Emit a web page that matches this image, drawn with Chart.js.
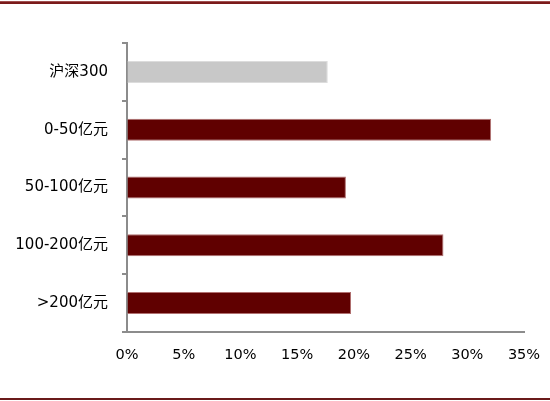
<!DOCTYPE html>
<html>
<head>
<meta charset="utf-8">
<script src="https://cdn.jsdelivr.net/npm/chart.js@4"></script>
<style>
  html, body { margin: 0; padding: 0; background: #fff; }
  #wrap { position: relative; width: 550px; height: 401px; overflow: hidden; }
  #topline { position: absolute; left: 0; top: 1px; width: 550px; height: 1px; background: #a05050; }
  #topline2 { position: absolute; left: 0; top: 2px; width: 550px; height: 2px; background: #7a1a1a; }
  #botline { position: absolute; left: 0; top: 398px; width: 550px; height: 2px; background: #6a1a1a; }
</style>
</head>
<body>
<div id="wrap">
  <div id="topline"></div>
  <div id="topline2"></div>
  <canvas id="bar_chart" width="550" height="401"></canvas>
  <div id="botline"></div>
</div>
<script>
var categories = ['沪深300', '0-50亿元', '50-100亿元', '100-200亿元', '>200亿元'];
var values = [17.7, 32.1, 19.3, 27.9, 19.75];
var bar_colors = ['#c8c8c8', '#600000', '#600000', '#600000', '#600000'];
var bar_borders = ['#dcdcdc', '#b07070', '#b07070', '#b07070', '#b07070'];

var font_family = "'DejaVu Sans', 'Noto Sans CJK SC', sans-serif";

function buildBarChart() {
    var ctx = document.getElementById('bar_chart');
    new Chart(ctx, {
        type: 'bar',
        data: {
            labels: categories,
            datasets: [{
                data: values,
                backgroundColor: bar_colors,
                borderColor: bar_borders,
                borderWidth: 1,
                barPercentage: 0.76,
                categoryPercentage: 0.5
            }]
        },
        options: {
            indexAxis: 'y',
            responsive: false,
            animation: false,
            layout: { padding: { top: 43, right: 26, left: 0, bottom: 0 } },
            plugins: {
                legend: { display: false },
                tooltip: { enabled: false }
            },
            scales: {
                x: {
                    min: 0,
                    max: 35,
                    ticks: {
                        stepSize: 5,
                        padding: 15,
                        color: '#000',
                        font: { family: font_family, size: 14.5 },
                        callback: function (v) { return v + '%'; }
                    },
                    grid: { drawOnChartArea: false, drawTicks: false },
                    border: { color: '#8c8c8c', width: 2 },
                    afterFit: function (s) {
                        s.height = 69;
                        s.paddingLeft = 0;
                        s.paddingRight = 0;
                    }
                },
                y: {
                    ticks: {
                        padding: 14,
                        color: '#000',
                        font: { family: font_family, size: 15 }
                    },
                    grid: { drawOnChartArea: false, tickLength: 5, color: '#8c8c8c', lineWidth: 2 },
                    border: { color: '#8c8c8c', width: 2 },
                    afterFit: function (s) { s.width = 127; }
                }
            }
        }
    });
}

buildBarChart();
</script>
</body>
</html>
